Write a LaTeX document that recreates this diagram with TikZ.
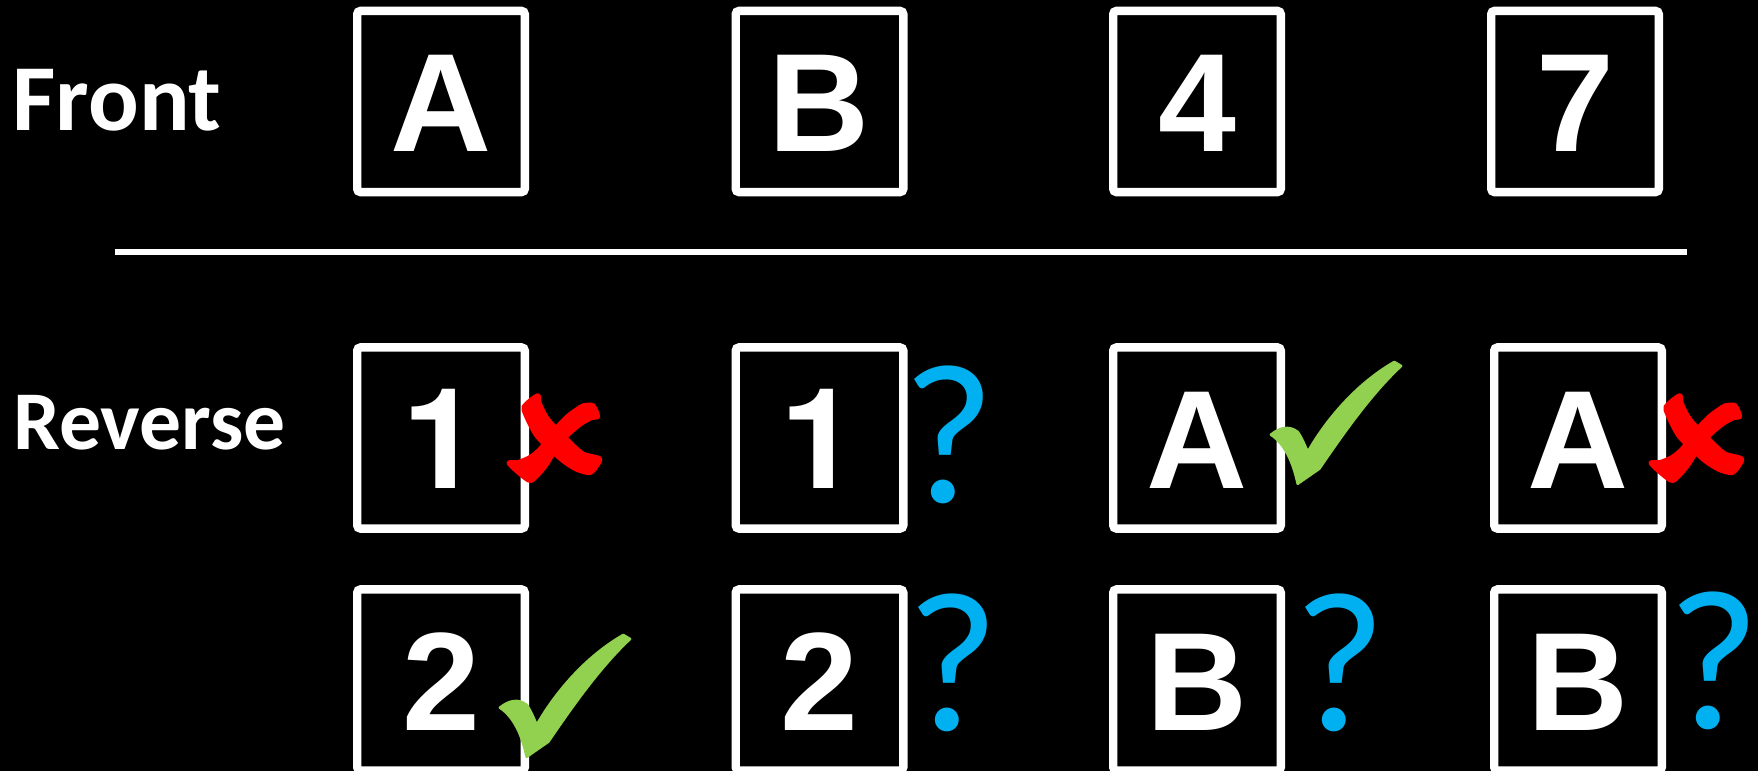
\documentclass[tikz,border=0pt]{standalone}
\usepackage{fontspec}
\newfontfamily\arialf{Liberation Sans}
\newfontfamily\herosf{TeX Gyre Heros}
\newfontfamily\calf{Carlito}
\definecolor{xred}{HTML}{FF0000}
\definecolor{xgreen}{HTML}{92D050}
\definecolor{xblue}{HTML}{00B0F0}
\tikzset{
  card/.style={draw=white, line width=3.8pt, rounded corners=1.5pt,
    minimum width=75.4pt, minimum height=81.5pt, inner sep=0pt, text=white,
    font=\arialf\bfseries\fontsize{63}{63}\selectfont, text height=45.1pt, text depth=0pt},
  onecard/.style={card, font=\herosf\bfseries\fontsize{63}{63}\selectfont},
  rowlabel/.style={anchor=base west, inner sep=0pt, text=white, text depth=0pt},
  qmark/.style={anchor=base, inner sep=0pt, text=xblue, text depth=0pt,
    font=\calf\fontsize{90}{90}\selectfont},
  crossmark/.pic={
    \filldraw[xred, line width=1.6pt, line join=round] plot[smooth cycle, tension=0.5] coordinates {(38.3,5) (40,13.3) (46.7,26.7) (55,36.7) (70,51.7) (83.3,63.3) (100,68.3) (96.7,76.7) (90,83.3) (76.7,80) (63.3,71.7) (50,60) (36.7,46.7) (28.3,31.7) (23.3,20) (23.3,16.7) (30,10)};
    \filldraw[xred, line width=1.6pt, line join=round] plot[smooth cycle, tension=0.5] coordinates {(83.3,15) (93.3,15) (98.3,26.7) (91.7,28.3) (80,35) (66.7,46.7) (55,61.7) (46.7,75) (36.7,86.7) (28.3,90.7) (8.3,73.3) (18.3,71.7) (30,66.7) (40,58.3) (50,45) (58.3,35) (68.3,25) (80,16.7)};
  },
  checkmark/.pic={
    \filldraw[xgreen, line width=1.2pt, line join=round] (0,72.7) .. controls (8,66) and (18,63) .. (26.7,70)
      .. controls (31,76) and (34,84) .. (36.7,90)
      .. controls (55,58) and (85,22) .. (123.3,0)
      -- (130,4)
      .. controls (100,32) and (72,72) .. (48.3,106.7)
      -- (26.7,121.7)
      .. controls (22,100) and (14,82) .. cycle;
  }
}
\begin{document}
\begin{tikzpicture}[x=0.45pt,y=-0.45pt]
\fill[black] (0,0) rectangle (1758,771);
\useasboundingbox (0,0) rectangle (1758,771);

% front row
\node[rowlabel, font=\calf\bfseries\fontsize{42.5}{42.5}\selectfont] (front) at (12,130.7) {Front};
\node[card] (f1) at (441,101.5) {A};
\node[card] (f2) at (819.5,101.5) {B};
\node[card] (f3) at (1197,101.5) {4};
\node[card] (f4) at (1575,101.5) {7};

% rule
\coordinate (ruleL) at (114.7,252);
\coordinate (ruleR) at (1687.3,252);
\draw[white, line width=2.4pt] (ruleL) -- (ruleR);

% reverse rows
\node[rowlabel, font=\calf\bfseries\fontsize{37.6}{37.6}\selectfont] (reverse) at (13,449) {Reverse};
\node[onecard] (r1) at (441,438) {1};
\node[onecard] (r2) at (819.5,438) {1};
\node[card] (r3) at (1197,438) {A};
\node[card] (r4) at (1578,438) {A};
\node[card] (s1) at (441,680) {2};
\node[card] (s2) at (819.5,680) {2};
\node[card] (s3) at (1197,680) {B};
\node[card] (s4) at (1578,680) {B};

% marks
\pic at (500,390) {crossmark};
\pic at (1642,390) {crossmark};
\pic at (500,635) {checkmark};
\pic at (1271,362) {checkmark};
\node[qmark] (q1) at (948.5,502) {?};
\node[qmark] (q2) at (952.5,730) {?};
\node[qmark] (q3) at (1339.5,730) {?};
\node[qmark] (q4) at (1713.5,728) {?};
\end{tikzpicture}
\end{document}
